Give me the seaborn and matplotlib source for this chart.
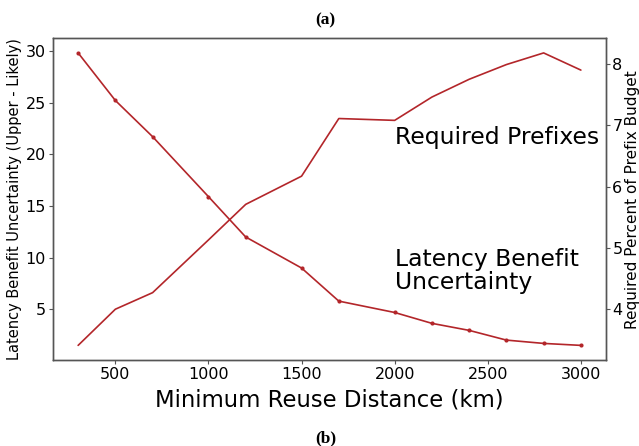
import matplotlib
matplotlib.use("Agg")
import matplotlib.pyplot as plt
import seaborn as sns
import pandas as pd

distance_km = [300, 500, 700, 1000, 1200, 1500, 1700, 2000, 2200, 2400, 2600, 2800, 3000]
latency_uncertainty = [29.8, 25.2, 21.7, 15.9, 12.0, 9.0, 5.8, 4.7, 3.65, 2.97, 2.03, 1.71, 1.52]
required_prefix_pct = [3.41, 4.0, 4.27, 5.13, 5.71, 6.17, 7.11, 7.08, 7.46, 7.75, 7.99, 8.18, 7.90]

xlabel = "Minimum Reuse Distance (km)"
ylabel_left = "Latency Benefit Uncertainty (Upper - Likely)"
ylabel_right = "Required Percent of Prefix Budget"

df = pd.DataFrame({"dist": distance_km, "lat": latency_uncertainty, "pref": required_prefix_pct})

sns.set_style("ticks")
plt.rcParams["font.family"] = ["DejaVu Sans"]
plt.rcParams["text.color"] = "black"
plt.rcParams["axes.labelcolor"] = "black"
plt.rcParams["xtick.color"] = "black"
plt.rcParams["ytick.color"] = "black"
color = "#b3262a"

fig = plt.figure(figsize=(6.39, 4.46), dpi=100)
ax = fig.add_axes([53 / 639, 1 - 360 / 446, (606 - 53) / 639, (360 - 38.3) / 446])
ax2 = ax.twinx()

sns.lineplot(data=df, x="dist", y="lat", ax=ax, color=color, lw=1.2,
             marker="o", markersize=3, markeredgewidth=0)
sns.lineplot(data=df, x="dist", y="pref", ax=ax2, color=color, lw=1.2)

ax.set_xlabel(xlabel, fontsize=16.4, labelpad=5)
ax.set_ylabel(ylabel_left, fontsize=10.5, labelpad=3)
ax2.set_ylabel(ylabel_right, fontsize=11, labelpad=2)
ax.set_yticks([5, 10, 15, 20, 25, 30])
ax.set_xticks([500, 1000, 1500, 2000, 2500, 3000])
ax2.set_yticks([4, 5, 6, 7, 8])
ax.tick_params(labelsize=11.5, length=3, width=0.8, color="#555555", pad=2)
ax2.tick_params(labelsize=11.5, length=3, width=0.8, color="#555555", pad=1.5)
for a in (ax, ax2):
    for s in a.spines.values():
        s.set_visible(True)
        s.set_color("#555555")
        s.set_linewidth(1.0)

ax.text(2000, 21.0, "Required Prefixes", fontsize=16.9, va="baseline", ha="left")
ax.text(2000, 7.0, "Latency Benefit\nUncertainty", fontsize=16.9, va="baseline", ha="left",
        linespacing=1.0)

fig.text(325 / 639, 1 - 20 / 446, "(a)", ha="center", va="center", fontsize=12.5,
         fontweight="bold", family="Liberation Serif")
fig.text(326 / 639, 1 - 438 / 446, "(b)", ha="center", va="center", fontsize=12.5,
         fontweight="bold", family="Liberation Serif")

fig.savefig("out.png", dpi=100)
